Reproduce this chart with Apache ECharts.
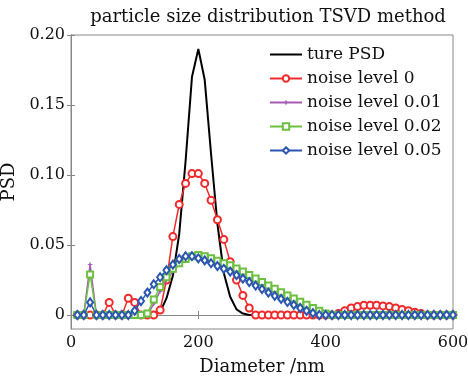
<!DOCTYPE html>
<html><head><meta charset="utf-8">
<script src="https://cdn.jsdelivr.net/npm/echarts@6/dist/echarts.min.js"></script>
<style>html,body{margin:0;padding:0;background:#fff}#c{width:468px;height:382px}</style>
</head><body><div id="c"></div>
<script>
const diameters = [];
for (let d = 10; d <= 600; d += 10) diameters.push(d);

const truePSD = [0,0,0,0,0,0,0,0,0,0, 0,0,0,0.002,0.012,0.028,0.058,0.11,0.17,0.19, 0.168,0.115,0.065,0.03,0.013,0.004,0.001,0,0,0, 0,0,0,0,0,0,0,0,0,0, 0,0,0,0,0,0,0,0,0,0, 0,0,0,0,0,0,0,0,0,0];
const noise0 = [0,0,0,0,0,0.009,0,0,0.012,0.009, 0,0,0,0.0035,0.025,0.056,0.079,0.094,0.101,0.101, 0.094,0.082,0.068,0.054,0.038,0.025,0.014,0.005,0,0, 0,0,0,0,0,0,0,0,0,0, 0,0.001,0.003,0.005,0.006,0.007,0.007,0.007,0.0065,0.006, 0.005,0.004,0.003,0.002,0.001,0,0,0,0,0];
const noise001 = [0,0,0.036,0,0,0,0,0,0,0, 0,0,0.008,0.017,0.025,0.031,0.036,0.039,0.041,0.042, 0.041,0.04,0.038,0.0362,0.0345,0.0322,0.03,0.0275,0.025,0.0225, 0.02,0.0177,0.0153,0.013,0.0108,0.0086,0.0065,0.0045,0.0025,0.0008, 0,0,0,0,0,0,0,0,0,0, 0,0,0,0,0,0,0,0,0,0];
const noise002 = [0,0,0.029,0,0,0,0,0,0,0, 0,0.001,0.011,0.02,0.027,0.033,0.037,0.04,0.042,0.0428, 0.042,0.0405,0.0388,0.037,0.0355,0.0333,0.031,0.0285,0.026,0.0235, 0.021,0.0187,0.0163,0.014,0.0117,0.0095,0.0073,0.005,0.003,0.001, 0,0,0,0,0,0,0,0,0,0, 0,0,0,0,0,0,0,0,0,0];
const noise005 = [0,0,0.009,0,0,0,0,0,0,0.003, 0.01,0.016,0.022,0.027,0.032,0.036,0.04,0.042,0.042,0.0405, 0.039,0.037,0.035,0.033,0.031,0.0285,0.026,0.0235,0.021,0.0185, 0.016,0.0137,0.0115,0.0093,0.0072,0.005,0.003,0.0013,0,0, 0,0,0,0,0,0,0,0,0,0, 0,0,0,0,0,0,0,0,0,0];

const xTicks = [0, 200, 400, 600];
const yTicks = [0, 0.05, 0.10, 0.15, 0.20];
const seriesNames = ['ture PSD', 'noise level 0', 'noise level 0.01', 'noise level 0.02', 'noise level 0.05'];

const FONT = 'DejaVu Serif';
const pair = arr => diameters.map((d, i) => [d, arr[i]]);
const star = 'path://M0,-10 L2.5,-2.5 L10,0 L2.5,2.5 L0,10 L-2.5,2.5 L-10,0 L-2.5,-2.5 Z';
const lineIcon = 'path://M0,0 L32,0 L32,0.01 L0,0.01 Z M0,3 L32,3 L32,5 L0,5 Z M0,7.99 L32,7.99 L32,8 L0,8 Z';

const chart = echarts.init(document.getElementById('c'), null, {renderer: 'canvas'});
const axisLineStyle = {color: '#888', width: 1};
chart.setOption({
  backgroundColor: '#fff',
  animation: false,
  title: {
    text: 'particle size distribution TSVD method',
    left: 263, top: 3, textAlign: 'center',
    textStyle: {fontFamily: FONT, fontSize: 18, fontWeight: 'normal', color: '#111'}
  },
  grid: {left: 71, right: 15, top: 35, bottom: 53, containLabel: false, outerBoundsMode: 'none',
    show: true, borderColor: '#888', borderWidth: 1, backgroundColor: '#fff'},
  legend: {
    orient: 'vertical', left: 269, top: 45, padding: 0,
    itemWidth: 32, itemHeight: 8, itemGap: 5,
    textStyle: {fontFamily: FONT, fontSize: 17, color: '#111', lineHeight: 19},
    data: [{name: seriesNames[0], icon: lineIcon, itemStyle: {color: '#000'}}].concat(seriesNames.slice(1))
  },
  xAxis: [{
    type: 'value', min: 0, max: 600, interval: 200,
    name: 'Diameter /nm', nameLocation: 'middle', nameGap: 29,
    nameTextStyle: {fontFamily: FONT, fontSize: 18, color: '#111'},
    axisLine: {show: true, lineStyle: axisLineStyle},
    axisTick: {show: true, inside: true, length: 4, lineStyle: axisLineStyle},
    axisLabel: {fontFamily: FONT, fontSize: 16, color: '#111', margin: 6},
    splitLine: {show: false}
  }, {
    type: 'value', min: 0, max: 600, interval: 200, position: 'top',
    axisLine: {show: true, lineStyle: axisLineStyle},
    axisTick: {show: true, inside: true, length: 4, lineStyle: axisLineStyle},
    axisLabel: {show: false}, splitLine: {show: false}
  }],
  yAxis: [{
    type: 'value', min: -0.01, max: 0.2,
    name: 'PSD', nameLocation: 'middle', nameGap: 42,
    nameTextStyle: {fontFamily: FONT, fontSize: 18, color: '#111'},
    axisLine: {show: true, lineStyle: axisLineStyle},
    axisTick: {show: true, inside: true, length: 4, lineStyle: axisLineStyle, customValues: yTicks},
    axisLabel: {fontFamily: FONT, fontSize: 16, color: '#111', margin: 6, customValues: yTicks,
      formatter: v => Math.abs(v) < 1e-9 ? '0' : v.toFixed(2)},
    splitLine: {show: false}
  }, {
    type: 'value', min: -0.01, max: 0.2, position: 'right',
    axisLine: {show: true, lineStyle: axisLineStyle},
    axisTick: {show: true, inside: true, length: 4, lineStyle: axisLineStyle, customValues: yTicks},
    axisLabel: {show: false, customValues: yTicks}, splitLine: {show: false}
  }],
  series: [
    {name: seriesNames[0], type: 'line', data: pair(truePSD), showSymbol: false, symbol: 'none',
      lineStyle: {color: '#000', width: 2}, itemStyle: {color: '#000'}, z: 2},
    {name: seriesNames[1], type: 'line', data: pair(noise0), symbol: 'emptyCircle', symbolSize: 7,
      lineStyle: {color: '#f02a2a', width: 1.5}, itemStyle: {color: '#f02a2a', borderWidth: 1.5}, z: 3},
    {name: seriesNames[2], type: 'line', data: pair(noise001), symbol: star, symbolSize: 6,
      lineStyle: {color: '#a45ab4', width: 1.5}, itemStyle: {color: '#a45ab4'}, z: 4},
    {name: seriesNames[3], type: 'line', data: pair(noise002), symbol: 'emptyRect', symbolSize: 6,
      lineStyle: {color: '#6cc040', width: 1.5}, itemStyle: {color: '#6cc040', borderWidth: 1.5}, z: 5},
    {name: seriesNames[4], type: 'line', data: pair(noise005), symbol: 'emptyDiamond', symbolSize: [6, 8],
      lineStyle: {color: '#2a55b0', width: 1.5}, itemStyle: {color: '#2a55b0', borderWidth: 1.5}, z: 6}
  ]
});
</script></body></html>
